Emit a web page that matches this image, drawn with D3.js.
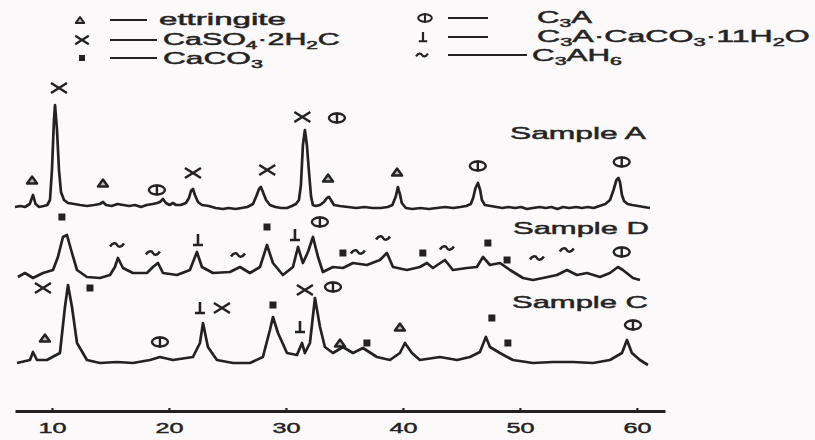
<!DOCTYPE html>
<html>
<head>
<meta charset="utf-8">
<script src="https://cdn.jsdelivr.net/npm/d3@7"></script>
<style>
    body { margin: 0; background: #fcf9fa; }
    svg { display: block; }
    text { font-family: "Liberation Sans", Arial, sans-serif; fill: #222; }
</style>
</head>
<body>
<div id="xrd"></div>
<script>
// 2-theta tick labels
var tickValues = [10, 20, 30, 40, 50, 60];

// traces: [2theta, intensity above the trace's own baseline]
var sampleA = [[6.84,1],[7.3,2],[7.7,1],[8.1,4],[8.38,13],[8.6,4],[8.9,1],[9.3,2],[9.6,3],[9.83,8],[10.0,38],[10.17,88],[10.26,103],[10.43,78],[10.6,38],[10.77,16],[11.03,8],[11.37,5],[11.9,4],[12.4,3],[13.0,2],[13.6,3],[14.1,4],[14.36,6],[14.62,3],[15.1,2],[15.6,4],[16.1,3],[16.6,2],[17.1,3],[17.6,1],[18.1,3],[18.6,4],[19.0,5],[19.23,6],[19.49,9],[19.74,5],[20.05,3],[20.34,5],[20.6,3],[21.0,3],[21.45,5],[21.71,10],[21.88,17],[22.05,19],[22.22,13],[22.48,6],[22.82,3],[23.4,2],[24.0,0],[24.6,-1],[25.1,0],[25.7,-1],[26.2,0],[26.7,1],[27.18,4],[27.44,11],[27.7,19],[27.86,21],[28.03,16],[28.3,8],[28.63,3],[29.1,1],[29.6,0],[30.1,0],[30.5,2],[30.85,4],[31.11,8],[31.28,23],[31.45,63],[31.62,78],[31.79,63],[31.97,36],[32.14,12],[32.3,3],[32.56,2],[32.9,3],[33.25,6],[33.5,10],[33.68,11],[33.85,8],[34.1,3],[34.6,2],[35.3,1],[36.0,0],[36.7,1],[37.4,0],[38.1,0],[38.7,1],[39.1,3],[39.4,12],[39.57,21],[39.74,14],[39.9,5],[40.25,0],[40.8,-1],[41.5,0],[42.2,-1],[42.9,0],[43.6,1],[44.3,0],[44.9,1],[45.4,2],[45.8,4],[46.0,10],[46.2,20],[46.41,25],[46.6,18],[46.75,8],[47.0,3],[47.5,2],[48.0,1],[48.5,0],[49.0,1],[49.6,0],[50.1,1],[50.6,-1],[51.1,0],[51.7,1],[52.2,0],[52.7,1],[53.2,-1],[53.7,1],[54.2,0],[54.8,1],[55.3,0],[55.8,1],[56.3,0],[56.8,2],[57.3,4],[57.7,8],[58.0,18],[58.25,28],[58.42,30],[58.55,26],[58.72,13],[58.9,7],[59.2,4],[59.6,3],[60.1,2],[60.6,1],[61.11,0]];

var sampleD = [[7.09,0],[7.69,4],[8.38,-1],[9.23,4],[10.09,7],[10.51,20],[10.94,40],[11.28,42],[11.71,24],[12.14,7],[12.99,0],[14.10,-1],[14.96,2],[15.38,10],[15.64,19],[16.07,9],[16.92,4],[18.12,4],[18.63,10],[19.06,14],[19.49,4],[20.68,2],[21.79,7],[22.39,25],[22.82,10],[23.76,4],[25.21,5],[26.07,10],[26.92,4],[27.78,10],[28.38,32],[28.89,14],[29.74,2],[30.60,10],[31.03,30],[31.45,14],[31.88,25],[32.31,40],[32.74,20],[33.16,5],[34.02,10],[34.87,9],[35.73,14],[36.92,12],[38.03,17],[38.63,24],[39.15,10],[40.34,7],[41.45,10],[42.05,14],[42.56,9],[43.59,17],[44.27,7],[45.47,9],[46.32,10],[46.84,20],[47.44,12],[48.29,14],[49.15,7],[50.26,-1],[51.11,-3],[51.97,-1],[53.16,2],[54.02,7],[54.87,2],[55.73,4],[56.84,0],[57.69,4],[58.38,10],[58.80,7],[59.66,-1],[60.26,-3]];

var sampleC = [[7.01,0],[8.12,3],[8.38,11],[8.72,3],[9.57,3],[10.68,10],[11.11,56],[11.37,78],[11.71,56],[12.14,20],[12.99,3],[14.10,0],[15.56,1],[16.92,0],[18.38,3],[19.23,6],[20.34,3],[22.05,6],[22.65,20],[22.91,40],[23.33,16],[24.10,3],[25.47,0],[26.92,0],[28.03,6],[28.63,33],[28.89,46],[29.32,30],[30.09,10],[30.94,8],[31.37,20],[31.62,10],[32.05,20],[32.48,65],[32.91,36],[33.33,16],[34.02,10],[34.87,16],[35.73,10],[36.58,15],[37.78,6],[38.89,3],[39.74,10],[40.17,20],[40.77,10],[41.45,3],[43.16,6],[44.62,3],[45.73,6],[46.58,11],[47.09,26],[47.44,16],[48.29,10],[49.40,3],[51.11,0],[52.82,1],[54.53,1],[56.24,0],[57.69,3],[58.72,10],[59.15,23],[59.57,10],[60.26,3],[60.94,-2]];

// vertical offset of each trace (intensity units)
var sampleNames = ["Sample A", "Sample D", "Sample C"];
var sampleOffsets = [203, 134, 48];

// phase marks: [phase, 2theta, height above trace baseline]
var marksA = [["ett",8.3,28],["gyp",10.6,120],["ett",14.36,25],["c3a",18.97,18],["gyp",22.05,35],["gyp",28.4,38],["gyp",31.4,91],["c3a",34.36,90],["ett",33.6,30],["ett",39.5,36],["c3a",46.4,42],["c3a",58.7,46]];
var marksD = [["cc",10.85,60],["c3ah6",15.56,32],["c3ah6",18.63,24],["mc",22.48,37],["c3ah6",25.9,22],["cc",28.38,50],["mc",30.77,42],["c3a",32.9,55],["cc",34.87,24],["c3ah6",36.15,25],["c3ah6",38.3,39],["cc",41.7,24],["c3ah6",43.76,29],["cc",47.26,34],["cc",48.9,17],["c3ah6",51.45,19],["c3ah6",54.0,27],["c3a",58.7,25]];
var marksC = [["gyp",9.23,75],["cc",13.25,75],["ett",9.4,25],["c3a",19.23,21],["mc",22.65,55],["gyp",24.53,55],["cc",28.89,58],["gyp",31.62,73],["c3a",34.02,76],["mc",31.2,36],["ett",34.62,20],["cc",36.92,20],["ett",39.74,36],["cc",47.6,45],["cc",48.97,20],["c3a",59.66,38]];

// legend: phase key and label pieces [text, isSubscript]
var legendPhases = ["ett", "gyp", "cc", "c3a", "mc", "c3ah6"];
var legendLabels = [
    [["ettringite",0]],
    [["CaSO",0],["4",1],["\u00b72H",0],["2",1],["C",0]],
    [["CaCO",0],["3",1]],
    [["C",0],["3",1],["A",0]],
    [["C",0],["3",1],["A\u00b7CaCO",0],["3",1],["\u00b711H",0],["2",1],["O",0]],
    [["C",0],["3",1],["AH",0],["6",1]]
];

var W = 815, H = 440;
var ink = "#222";

var svg = d3.select("#xrd").append("svg")
    .attr("width", W)
    .attr("height", H);

var x = d3.scaleLinear().domain([6.84, 62.4]).range([15, 665]);
var y = d3.scaleLinear().domain([0, 330]).range([411, 81]);

// scanned figure is stretched sideways, so text gets squeezed to fit its box
function wideText(g, px, py, pieces, size, targetW) {
    var grp = g.append("g");
    var t = grp.append("text")
        .style("font-size", size + "px")
        .attr("stroke", "#2a2a2a")
        .attr("stroke-width", 0.5);
    var shift = 0;
    pieces.forEach(function (p) {
        var dy = p[1] ? 3.5 - shift : -shift;
        shift = p[1] ? 3.5 : 0;
        t.append("tspan")
            .attr("dy", dy)
            .style("font-size", (p[1] ? size * 0.68 : size) + "px")
            .text(p[0]);
    });
    var w = t.node().getComputedTextLength();
    grp.attr("transform", "translate(" + px + "," + py + ") scale(" + (targetW / w) + ",1)");
}

function drawMark(g, type, cx, cy, s) {
    s = s || 1;
    var m = g.append("g").attr("transform", "translate(" + cx + "," + cy + ") scale(" + s + ")");
    if (type == "ett") {
        m.append("path").attr("d", "M-5,3.5L0,-3.5L5,3.5Z")
            .attr("fill", "#bbb").attr("stroke", ink).attr("stroke-width", 2.4).attr("stroke-linejoin", "round");
    } else if (type == "gyp") {
        m.append("path").attr("d", "M-8,-5L8,5M-8,5L8,-5")
            .attr("stroke", ink).attr("stroke-width", 2.6);
    } else if (type == "cc") {
        m.append("rect").attr("x", -3.5).attr("y", -3.5).attr("width", 7).attr("height", 7).attr("fill", ink);
    } else if (type == "c3a") {
        m.append("ellipse").attr("rx", 8).attr("ry", 4.5)
            .attr("fill", "none").attr("stroke", ink).attr("stroke-width", 2.4);
        m.append("path").attr("d", "M0,-5.5V5.5").attr("stroke", ink).attr("stroke-width", 2.4);
    } else if (type == "mc") {
        m.append("path").attr("d", "M0,-6V5M-5,5H5").attr("stroke", ink).attr("stroke-width", 2.6);
    } else if (type == "c3ah6") {
        m.append("path").attr("d", "M-7,1.5C-4,-3 -1,-2 0,0S4,3 7,-1.5")
            .attr("fill", "none").attr("stroke", ink).attr("stroke-width", 2.6);
    }
}

// x axis
var xAxis = d3.axisBottom(x)
    .tickValues(tickValues)
    .tickSizeInner(-3)
    .tickSizeOuter(0)
    .tickPadding(12);

var axisG = svg.append("g")
    .attr("class", "x axis")
    .attr("transform", "translate(0," + y(0) + ")")
    .attr("color", ink)
    .call(xAxis);
axisG.select(".domain").attr("stroke-width", 2.8);
axisG.selectAll(".tick line").attr("stroke-width", 2.2);
axisG.selectAll(".tick text")
    .style("font-size", "14px")
    .style("font-family", "'Liberation Sans', Arial, sans-serif")
    .attr("fill", ink)
    .attr("stroke", ink)
    .attr("stroke-width", 0.4)
    .attr("transform", "scale(1.8,1)");

// traces
var line = d3.line()
    .x(function (d) { return x(d[0]); })
    .y(function (d) { return y(d[1]); });

var traces = [sampleA, sampleD, sampleC];
var marks = [marksA, marksD, marksC];
var labelBase = [[510, 139], [513, 234], [512, 308]];

traces.forEach(function (s, i) {
    var off = sampleOffsets[i];
    var shifted = s.map(function (d) { return [d[0], d[1] + off]; });
    svg.append("path")
        .datum(shifted)
        .attr("class", "line")
        .attr("fill", "none")
        .attr("stroke", ink)
        .attr("stroke-width", 2.7)
        .attr("stroke-linejoin", "round")
        .attr("d", line);

    marks[i].forEach(function (mk) {
        drawMark(svg, mk[0], x(mk[1]), y(mk[2] + off));
    });

    wideText(svg, labelBase[i][0], labelBase[i][1], [[sampleNames[i], 0]], 17, 136);
});

// legend
var legPos = [
    { sx: 80, sy: 20, l0: 110, l1: 147, tx: 159, ty: 25, tw: 127 },
    { sx: 82, sy: 40, l0: 110, l1: 157, tx: 163, ty: 45, tw: 177 },
    { sx: 82, sy: 58, l0: 110, l1: 157, tx: 163, ty: 64, tw: 100 },
    { sx: 425, sy: 18, l0: 448, l1: 488, tx: 537, ty: 23, tw: 55 },
    { sx: 423, sy: 37, l0: 448, l1: 488, tx: 537, ty: 42, tw: 273 },
    { sx: 422, sy: 55, l0: 448, l1: 527, tx: 532, ty: 61, tw: 90 }
];

legendPhases.forEach(function (ph, i) {
    var p = legPos[i];
    drawMark(svg, ph, p.sx, p.sy, 0.85);
    svg.append("line")
        .attr("x1", p.l0).attr("x2", p.l1)
        .attr("y1", p.sy).attr("y2", p.sy)
        .attr("stroke", ink).attr("stroke-width", 2);
    wideText(svg, p.tx, p.ty, legendLabels[i], 16, p.tw);
});
</script>
</body>
</html>
